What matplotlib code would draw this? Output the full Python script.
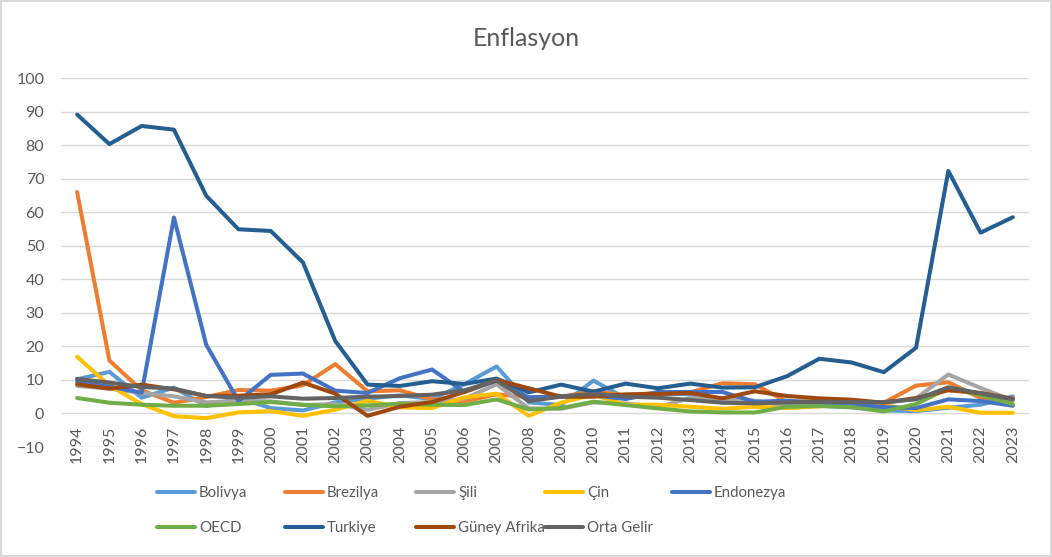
import matplotlib.pyplot as plt
import numpy as np
from matplotlib.lines import Line2D

years = np.arange(1994, 2024)

bolivya = [10.2, 12.4, 4.7, 7.7, 2.2, 4.6, 1.6, 0.9, 3.3, 4.4, 5.4, 4.3, 8.7, 14.0, 3.3,
           2.5, 9.8, 4.5, 5.7, 5.8, 4.1, 3.6, 2.8, 2.3, 1.8, 0.9, 0.7, 1.7, 2.6, 5.1]
brezilya = [66.0, 15.8, 6.9, 3.2, 4.9, 7.0, 6.8, 8.4, 14.7, 6.6, 6.9, 4.2, 3.6, 5.7, 4.9,
            5.0, 6.6, 5.4, 6.2, 6.3, 9.0, 8.7, 3.4, 3.7, 3.7, 3.2, 8.3, 9.3, 4.6, 4.4]
sili = [8.2, 7.4, 6.1, 5.1, 3.3, 3.8, 3.6, 2.5, 2.8, 1.1, 3.1, 3.4, 4.4, 8.7, 1.5,
        1.4, 3.3, 3.0, 1.8, 4.7, 4.3, 3.8, 2.2, 2.4, 2.6, 3.0, 4.5, 11.6, 7.6, 3.9]
cin = [16.9, 8.3, 2.8, -0.8, -1.4, 0.3, 0.7, -0.7, 1.1, 3.8, 1.8, 1.6, 4.8, 5.9, -0.7,
       3.2, 5.6, 2.6, 2.6, 2.0, 1.4, 2.0, 1.6, 2.1, 2.9, 2.4, 1.0, 2.0, 0.2, 0.2]
endonezya = [9.4, 8.0, 6.2, 58.4, 20.5, 3.7, 11.5, 11.9, 6.8, 6.1, 10.5, 13.1, 6.4, 9.8, 4.8,
             5.1, 5.4, 4.3, 6.4, 6.4, 6.4, 3.5, 3.8, 3.2, 2.8, 1.9, 1.6, 4.2, 3.7, 2.3]
oecd = [4.6, 3.2, 2.6, 2.3, 2.3, 2.8, 3.4, 2.6, 2.1, 2.4, 2.9, 2.6, 2.5, 4.2, 1.2,
        1.6, 3.5, 2.5, 1.5, 0.6, 0.3, 0.3, 2.0, 2.2, 1.9, 0.6, 2.8, 7.5, 5.5, 2.8]
turkiye = [89.1, 80.3, 85.7, 84.6, 64.9, 54.9, 54.4, 45.0, 21.6, 8.6, 8.2, 9.6, 8.8, 10.4, 6.3,
           8.6, 6.5, 8.9, 7.5, 8.9, 7.7, 7.8, 11.1, 16.3, 15.2, 12.3, 19.6, 72.3, 53.9, 58.5]
guney_afrika = [8.7, 7.4, 8.6, 7.2, 5.2, 5.3, 5.7, 9.2, 5.9, -0.7, 2.0, 3.4, 6.4, 10.0, 7.5,
                5.0, 5.0, 5.7, 5.8, 6.1, 4.5, 6.6, 5.2, 4.5, 4.1, 3.2, 4.6, 6.9, 6.1, 4.4]
orta_gelir = [10.3, 9.2, 7.9, 7.4, 5.2, 4.7, 5.1, 4.4, 4.6, 5.0, 5.2, 5.6, 6.9, 9.8, 3.7,
              5.0, 5.9, 5.0, 4.7, 4.0, 3.2, 3.0, 3.3, 3.5, 3.4, 3.4, 4.2, 7.8, 6.0, 4.2]

series = [
    ("Bolivya", bolivya, "#5B9BD5"),
    ("Brezilya", brezilya, "#ED7D31"),
    ("Şili", sili, "#A5A5A5"),
    ("Çin", cin, "#FFC000"),
    ("Endonezya", endonezya, "#4472C4"),
    ("OECD", oecd, "#70AD47"),
    ("Turkiye", turkiye, "#255E91"),
    ("Güney Afrika", guney_afrika, "#9E480E"),
    ("Orta Gelir", orta_gelir, "#636363"),
]

txt = "#595959"
plt.rcParams['font.family'] = ['Lato', 'DejaVu Sans']

fig = plt.figure(figsize=(10.52, 5.57), dpi=100, linewidth=1.5, edgecolor="#D9D9D9")
ax = fig.add_axes([61 / 1052, 1 - 447 / 557, (1029 - 61) / 1052, (447 - 78) / 557])

x = np.arange(len(years))
for name, vals, col in series:
    ax.plot(x, vals, color=col, lw=2.9, solid_joinstyle="round",
            solid_capstyle="round", label=name)

ax.set_xlim(-0.5, len(years) - 0.5)
ax.set_ylim(-10, 100)
ax.set_yticks(np.arange(-10, 101, 10))
ax.yaxis.grid(True, color="#D9D9D9", lw=1)
ax.set_axisbelow(True)
for s in ["top", "right", "left"]:
    ax.spines[s].set_visible(False)
ax.spines["bottom"].set_position(("data", 0))
ax.spines["bottom"].set_visible(False)
ax.set_xticks(x)
ax.set_xticklabels([str(y) for y in years], rotation=90)
ax.tick_params(axis="x", length=0, pad=9, labelsize=11.5, labelcolor=txt)
ax.tick_params(axis="y", length=0, pad=12, labelsize=11.5, labelcolor=txt)

fig.text(0.5, 1 - 38 / 557, "Enflasyon", ha="center", va="center", fontsize=18, color=txt)

# legend: Excel-like fixed column positions
col_x = [157, 285, 416, 545, 672]
rows = [[0, 1, 2, 3, 4], [5, 6, 7, 8]]
for r, idxs in enumerate(rows):
    for c, i in enumerate(idxs):
        h = Line2D([], [], color=series[i][2], lw=2.9, solid_capstyle="round")
        fig.legend([h], [series[i][0]], loc="center left",
                   bbox_to_anchor=(col_x[c] / 1052, 1 - (493 + 35 * r) / 557),
                   frameon=False, borderpad=0, handlelength=2.55, handletextpad=0.25,
                   fontsize=10.8, labelcolor=txt, borderaxespad=0)

fig.savefig("out.png", dpi=100)
